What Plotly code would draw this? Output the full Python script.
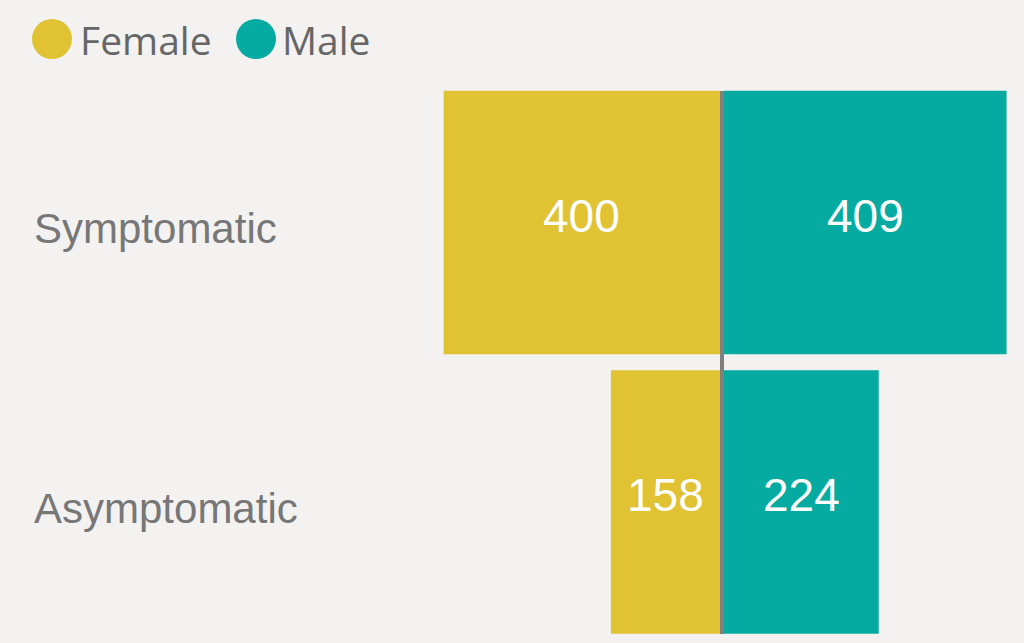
import plotly.graph_objects as go

categories = ["Symptomatic", "Asymptomatic"]
female = [400, 158]
male = [409, 224]
series_names = ["Female", "Male"]
colors = ["#E0C233", "#05ABA0"]

W, H = 1024, 643
fig = go.Figure()

fig.add_trace(go.Bar(
    y=categories, x=female, orientation="h", name=series_names[0],
    marker=dict(color=colors[0], line=dict(width=0)),
    xaxis="x", yaxis="y", showlegend=False,
))
fig.add_trace(go.Bar(
    y=categories, x=male, orientation="h", name=series_names[1],
    marker=dict(color=colors[1], line=dict(width=0)),
    xaxis="x2", yaxis="y", showlegend=False,
))

xmax = 414
fig.update_layout(
    width=W, height=H,
    margin=dict(l=0, r=0, t=0, b=0),
    paper_bgcolor="#F3F2F1", plot_bgcolor="#F3F2F1",
    bargap=0.057,
    showlegend=False,
    xaxis=dict(domain=[434 / W, 720 / W], range=[xmax, 0], visible=False, fixedrange=True),
    xaxis2=dict(domain=[724 / W, 1010 / W], range=[0, xmax], visible=False, fixedrange=True),
    yaxis=dict(domain=[1 - 641.75 / H, 1 - 82.75 / H], type="category",
               categoryorder="array", categoryarray=categories[::-1],
               visible=False, fixedrange=True),
)

# value labels centred in each bar
for vals, xr in ((female, "x"), (male, "x2")):
    for c, v in zip(categories, vals):
        fig.add_annotation(text=str(v), xref=xr, x=v / 2, yref="y", y=c,
                           xanchor="center", yanchor="middle", yshift=7, showarrow=False,
                           font=dict(family="Liberation Sans, Arial", size=46, color="white"))

# center line
fig.add_shape(type="line", xref="paper", yref="paper",
              x0=722 / W, x1=722 / W, y0=1 - 634 / H, y1=1 - 91 / H,
              line=dict(color="#7F7F7F", width=4), layer="above")

# category labels
for c in categories:
    fig.add_annotation(text=c, xref="paper", x=32 / W, xanchor="left",
                       yref="y", y=c, yanchor="middle", yshift=-6, showarrow=False,
                       font=dict(family="Liberation Sans, Arial", size=42, color="#777777"))

# custom legend
legend_items = [(series_names[0], colors[0], 52, 78), (series_names[1], colors[1], 256, 280)]
for name, col, cx, tx in legend_items:
    fig.add_shape(type="circle", xref="paper", yref="paper",
                  x0=(cx - 20) / W, x1=(cx + 20) / W, y0=1 - 59 / H, y1=1 - 19 / H,
                  fillcolor=col, line=dict(width=0))
    fig.add_annotation(text=name, xref="paper", x=tx / W, xanchor="left",
                       yref="paper", y=1 - 40 / H, yanchor="middle", showarrow=False,
                       font=dict(family="Open Sans", size=39, color="#666666"))

fig.write_html("out.html", config={"displayModeBar": False},
               post_script="document.body.style.margin='0';document.body.style.overflow='hidden';")
